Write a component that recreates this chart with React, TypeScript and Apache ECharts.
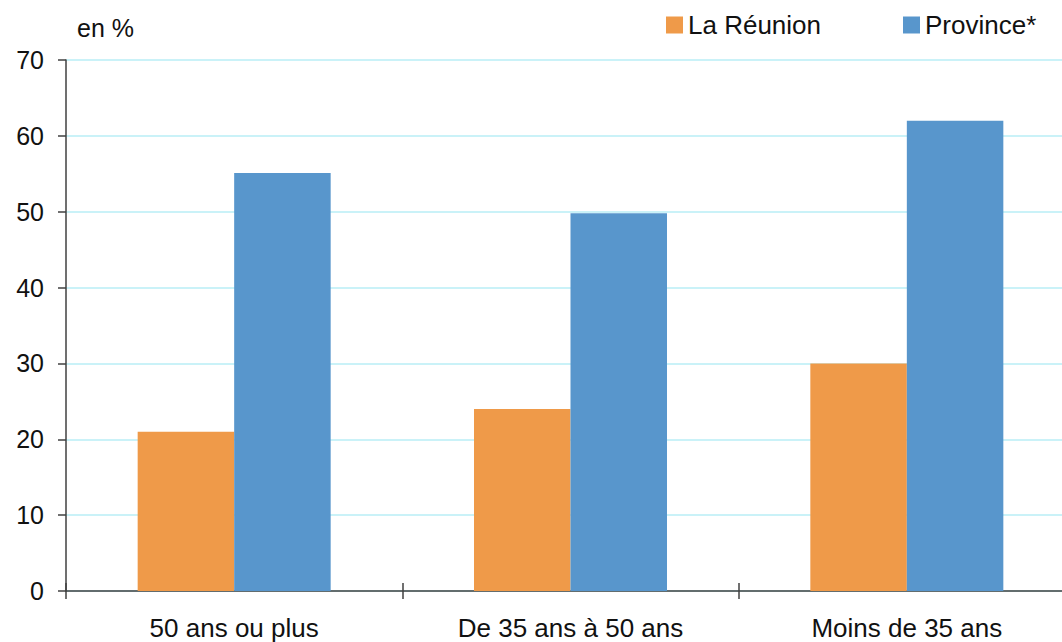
import React, { useEffect, useRef } from "react";
import * as echarts from "echarts";

const categories = ["50 ans ou plus", "De 35 ans à 50 ans", "Moins de 35 ans"];
const reunion = [21, 24, 30];
const province = [55.1, 49.8, 62];
const seriesNames = ["La Réunion", "Province*"];
const yTitle = "en %";

const FONT = "'Liberation Sans', Arial, sans-serif";

export default function App() {
  const ref = useRef<HTMLDivElement>(null);
  useEffect(() => {
    document.body.style.margin = "0";
    const chart = echarts.init(ref.current!, null, { renderer: "svg" });
    chart.setOption({
      animation: false,
      backgroundColor: "#ffffff",
      textStyle: { fontFamily: FONT },
      legend: {
        left: 666,
        top: 12,
        padding: 0,
        itemWidth: 17,
        itemHeight: 17,
        itemGap: 82,
        icon: "rect",
        textStyle: { fontSize: 26, color: "#111", fontFamily: FONT },
        data: seriesNames,
      },
      graphic: [
        {
          type: "text",
          left: 77,
          top: 15,
          style: { text: yTitle, fontSize: 25, fill: "#111", fontFamily: FONT },
        },
      ],
      grid: { left: 66, top: 60, right: 0, bottom: 51, containLabel: false },
      xAxis: [
        {
          type: "category",
          data: categories,
          axisLine: { lineStyle: { color: "#404040", width: 1.5 } },
          axisTick: { show: true, length: 8, lineStyle: { color: "#404040", width: 1.5 } },
          axisLabel: { fontSize: 26, color: "#111", margin: 24, fontFamily: FONT },
          splitLine: { show: false },
        },
        {
          type: "category",
          data: categories,
          position: "bottom",
          axisLine: { show: false },
          axisTick: { show: true, inside: true, length: 8, lineStyle: { color: "#404040", width: 1.5 } },
          axisLabel: { show: false },
          splitLine: { show: false },
        },
      ],
      yAxis: {
        type: "value",
        min: 0,
        max: 70,
        interval: 10,
        axisLine: { show: true, lineStyle: { color: "#404040", width: 1.5 } },
        axisTick: { show: true, length: 8, lineStyle: { color: "#404040", width: 1.5 } },
        axisLabel: { fontSize: 25, color: "#111", margin: 22, fontFamily: FONT },
        splitLine: { show: true, lineStyle: { color: "#b8eef6", width: 1.5 } },
      },
      series: [
        {
          name: seriesNames[0],
          type: "bar",
          data: reunion,
          barWidth: 96.5,
          barGap: "0%",
          itemStyle: { color: "#EF9A49" },
        },
        {
          name: seriesNames[1],
          type: "bar",
          data: province,
          barWidth: 96.5,
          barGap: "0%",
          itemStyle: { color: "#5896CC" },
        },
      ],
    });
    return () => chart.dispose();
  }, []);
  return (
    <div
      style={{ position: "absolute", left: 0, top: 0, width: 1062, height: 642, overflow: "hidden" }}
    >
      <div ref={ref} style={{ position: "absolute", left: 0, top: 0, width: 1075, height: 642 }} />
    </div>
  );
}
